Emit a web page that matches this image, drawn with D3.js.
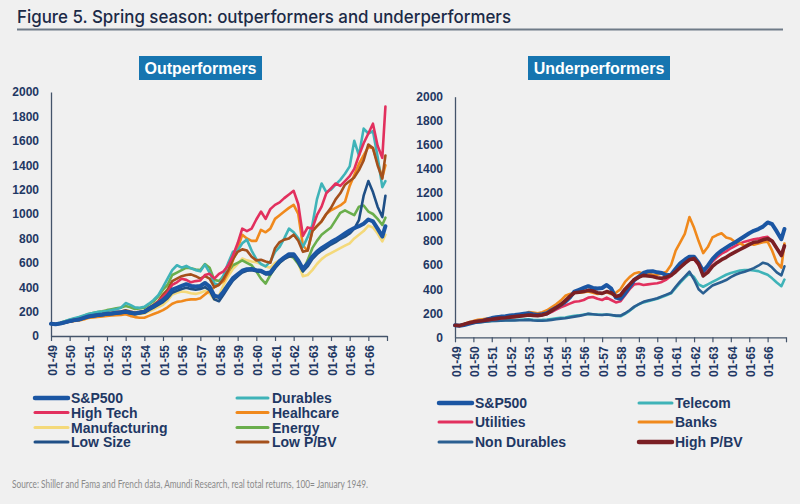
<!DOCTYPE html>
<html><head><meta charset="utf-8">
<script src="https://cdn.jsdelivr.net/npm/d3@7"></script>
<style>body{margin:0;background:#f0f0f0}svg{display:block}</style>
</head><body><svg id="c" width="800" height="504"></svg>
<script>
// ---------- DATA (quarterly readings, real total returns, 100 = Jan 1949) ----------
const dates = [
"1949-01","1949-04","1949-07","1949-10","1950-01","1950-04","1950-07","1950-10",
"1951-01","1951-04","1951-07","1951-10","1952-01","1952-04","1952-07","1952-10",
"1953-01","1953-04","1953-07","1953-10","1954-01","1954-04","1954-07","1954-10",
"1955-01","1955-04","1955-07","1955-10","1956-01","1956-04","1956-07","1956-10",
"1957-01","1957-04","1957-07","1957-10","1958-01","1958-04","1958-07","1958-10",
"1959-01","1959-04","1959-07","1959-10","1960-01","1960-04","1960-07","1960-10",
"1961-01","1961-04","1961-07","1961-10","1962-01","1962-04","1962-07","1962-10",
"1963-01","1963-04","1963-07","1963-10","1964-01","1964-04","1964-07","1964-10",
"1965-01","1965-04","1965-07","1965-10","1966-01","1966-04","1966-07","1966-10","1966-12"];

const sp500 = [100,96,102,112, 122,130,135,148, 160,166,172,176, 182,185,190,195, 200,192,185,192, 200,225,245,270,
 295,330,380,395, 410,425,410,405, 410,435,405,330, 320,365,420,475, 505,535,548,550, 540,535,515,520,
 570,615,645,670, 670,620,550,595, 650,690,720,745, 770,790,815,840, 865,885,900,920, 955,940,880,815,900];
const durables = [100,98,108,122, 135,145,155,168, 180,188,196,200, 205,212,220,232, 270,255,235,232, 240,265,295,335,
 400,470,540,580, 560,575,555,540, 530,585,520,430, 420,500,600,690, 700,760,790,700, 630,590,570,610,
 690,730,800,880, 850,800,730,810, 910,1120,1250,1180, 1200,1240,1280,1330, 1390,1600,1480,1700, 1660,1680,1470,1220,1270];
const highTech = [100,96,102,110, 120,128,133,145, 157,162,168,172, 178,182,186,190, 198,190,183,190, 198,222,248,280,
 320,360,420,440, 470,460,440,450, 455,500,510,470, 510,530,580,660, 760,880,860,880, 955,1020,960,1040,
 1075,1095,1130,1160, 1190,1080,820,890, 880,990,1060,1170, 1210,1250,1230,1270, 1310,1370,1480,1580, 1660,1740,1560,1460,1880];
const healthcare = [100,96,100,108, 118,124,128,136, 148,152,156,160, 165,168,170,172, 178,165,155,150, 150,165,180,195,
 212,235,265,280, 285,295,300,300, 310,340,370,400, 420,450,520,620, 720,830,800,780, 780,870,850,880,
 960,990,1020,1050, 1075,1000,740,700, 860,900,940,1000, 1030,1050,1070,1100, 1230,1320,1410,1480, 1550,1540,1420,1300,1400];
const manufacturing = [100,96,100,108, 118,125,130,140, 152,157,162,166, 172,175,180,183, 188,182,176,180, 185,200,218,238,
 255,290,340,355, 365,360,350,345, 355,370,350,300, 330,420,490,550, 590,635,620,610, 605,590,570,560,
 600,620,635,650, 665,600,490,500, 540,590,630,660, 680,700,720,740, 760,800,830,860, 905,890,840,775,830];
const energy = [100,98,108,120, 132,142,150,165, 180,188,196,202, 212,220,228,234, 245,235,222,225, 232,258,285,325,
 380,420,500,520, 540,560,555,545, 540,590,560,460, 450,490,530,580, 600,620,600,580, 530,470,430,500,
 560,600,640,660, 640,590,530,620, 720,780,830,860, 890,950,1010,1030, 1010,990,1060,1070, 1020,1000,960,910,970];
const lowSize = [100,95,100,108, 118,126,131,143, 155,161,166,170, 176,179,183,187, 192,185,178,184, 190,212,232,255,
 278,310,355,370, 385,395,385,380, 385,400,375,300, 285,340,400,455, 490,520,535,540, 530,525,505,505,
 555,600,630,650, 655,600,530,570, 630,670,700,725, 750,770,795,815, 840,880,950,1150, 1270,1180,1060,975,1150];
const lowPBV = [100,97,104,115, 125,133,140,150, 163,168,176,180, 186,190,196,200, 210,200,193,198, 205,230,255,285,
 340,380,450,470, 490,500,505,490, 470,490,470,400, 420,470,540,630, 690,710,700,650, 620,625,610,600,
 720,770,790,800, 830,780,690,700, 860,900,940,1000, 1050,1120,1170,1240, 1270,1300,1360,1440, 1570,1540,1400,1290,1480];

const telecom = [100,98,108,118, 122,126,128,132, 135,137,140,142, 143,145,146,148, 150,146,144,145, 147,152,157,162,
 165,172,178,182, 190,195,192,190, 188,190,185,178, 175,195,220,250, 275,290,300,310, 320,335,350,365,
 410,455,495,530, 500,440,420,440, 460,480,500,520, 535,545,555,560, 560,555,550,535, 520,490,455,425,480];
const utilities = [100,97,106,116, 125,130,135,140, 148,152,158,162, 166,170,175,180, 185,182,180,185, 195,210,230,250,
 265,280,295,300, 310,330,335,320, 310,330,310,290, 300,350,400,440, 445,435,440,445, 450,460,480,510,
 555,590,625,650, 650,600,530,580, 630,665,695,715, 740,760,780,795, 805,815,820,830, 835,800,740,690,755];
const banks = [100,98,110,125, 135,145,150,155, 158,160,163,166, 170,175,182,190, 210,205,200,208, 225,250,275,305,
 345,360,370,370, 375,380,370,360, 365,375,360,370, 400,460,500,530, 540,530,530,520, 520,530,545,600,
 720,790,860,1000, 910,800,700,750, 830,850,865,830, 820,790,780,760, 780,770,780,790, 795,720,620,580,780];
const nonDurables = [100,97,106,115, 120,125,128,132, 135,135,138,140, 140,140,142,143, 145,140,138,138, 140,145,150,155,
 158,165,172,178, 186,195,192,188, 185,190,185,180, 180,200,225,255, 275,295,305,315, 325,340,355,370,
 420,465,505,545, 480,400,365,400, 430,445,460,476, 500,520,535,545, 560,575,595,620, 610,580,540,515,590];
const highPBV = [100,97,108,120, 128,134,138,145, 150,155,160,163, 168,172,176,180, 185,182,180,186, 195,220,245,270,
 305,340,370,375, 380,390,385,370, 365,380,370,340, 350,400,440,480, 500,515,510,505, 495,490,500,515,
 545,580,615,645, 655,610,510,540, 590,620,645,665, 690,710,730,750, 770,790,795,810, 820,800,740,680,760];

const yTickValues = [0,200,400,600,800,1000,1200,1400,1600,1800,2000];
const xTickLabels = ["01-49","01-50","01-51","01-52","01-53","01-54","01-55","01-56","01-57",
 "01-58","01-59","01-60","01-61","01-62","01-63","01-64","01-65","01-66"];

// ---------- DRAWING ----------
const parse = d3.timeParse("%Y-%m");
const T = dates.map(parse);
const svg = d3.select("#c");
const NAVY = "#1f3864";
const AXIS = "#44546a";

svg.append("rect").attr("width",800).attr("height",504).attr("fill","#f0f0f0");

svg.append("text").attr("x",17).attr("y",23)
  .attr("font-family","Inter, 'Open Sans', sans-serif").attr("font-size",17.5).attr("font-weight",500)
  .attr("fill","#1b2a47").attr("textLength",494).attr("lengthAdjust","spacingAndGlyphs")
  .text("Figure 5. Spring season: outperformers and underperformers");
svg.append("line").attr("x1",17).attr("x2",783).attr("y1",29.5).attr("y2",29.5)
  .attr("stroke","#6f7b88").attr("stroke-width",2);

svg.append("text").attr("x",12).attr("y",488)
  .attr("font-family","Lato, 'Open Sans', sans-serif").attr("font-weight",400).attr("font-size",11.5)
  .attr("fill","#8a8a8a").attr("textLength",356).attr("lengthAdjust","spacingAndGlyphs")
  .text("Source: Shiller and Fama and French data, Amundi Research, real total returns, 100= January 1949.");

const panels = [
  { x0:51, x1:387, y0:336, y1:92, title:"Outperformers", boxCx:200.5, boxW:123,
    series:[
      {name:"Manufacturing", v:manufacturing, c:"#f4d97a", w:2.6},
      {name:"Energy", v:energy, c:"#6aae4c", w:2.6},
      {name:"Healhcare", v:healthcare, c:"#f0891c", w:2.6},
      {name:"Durables", v:durables, c:"#3fb3b8", w:2.6},
      {name:"Low P/BV", v:lowPBV, c:"#a4501c", w:2.6},
      {name:"High Tech", v:highTech, c:"#e2305e", w:2.6},
      {name:"Low Size", v:lowSize, c:"#1f4f86", w:2.6},
      {name:"S&P500", v:sp500, c:"#1b56a3", w:4}
    ],
    legend:{ cols:[{lx:35,lx2:68,tx:71},{lx:237,lx2:268,tx:272}], rows:[398,412.5,427.5,442],
      items:[["S&P500","Durables"],["High Tech","Healhcare"],["Manufacturing","Energy"],["Low Size","Low P/BV"]] }
  },
  { x0:455, x1:786, y0:337.3, y1:96.7, title:"Underperformers", boxCx:599, boxW:142,
    series:[
      {name:"Telecom", v:telecom, c:"#3fb3b8", w:2.6},
      {name:"Non Durables", v:nonDurables, c:"#2a5f91", w:2.6},
      {name:"Utilities", v:utilities, c:"#e2305e", w:2.6},
      {name:"Banks", v:banks, c:"#f0891c", w:2.6},
      {name:"S&P500", v:sp500, c:"#1b56a3", w:4},
      {name:"High P/BV", v:highPBV, c:"#7a1f24", w:3.6}
    ],
    legend:{ cols:[{lx:439,lx2:472,tx:475},{lx:639,lx2:672,tx:675}], rows:[403,422,442],
      items:[["S&P500","Telecom"],["Utilities","Banks"],["Non Durables","High P/BV"]] }
  }
];

panels.forEach(p => {
  const x = d3.scaleTime().domain([new Date(1949,0,1), new Date(1967,0,1)]).range([p.x0,p.x1]);
  const y = d3.scaleLinear().domain([0,2000]).range([p.y0,p.y1]);
  const g = svg.append("g");

  g.append("rect").attr("x",p.boxCx-p.boxW/2).attr("y",56).attr("width",p.boxW).attr("height",24).attr("fill","#1675b0");
  g.append("text").attr("x",p.boxCx).attr("y",73.5).attr("text-anchor","middle")
    .attr("font-family","'Liberation Sans', Arial, sans-serif").attr("font-weight","bold").attr("font-size",16)
    .attr("fill","#ffffff").text(p.title);

  const ya = g.append("g").attr("transform",`translate(${p.x0},0)`)
    .call(d3.axisLeft(y).tickValues(yTickValues).tickSize(0).tickPadding(12).tickFormat(d3.format("d")));
  ya.select(".domain").attr("stroke",AXIS).attr("stroke-width",1.3);
  ya.selectAll("text").attr("font-family","'Liberation Sans', Arial, sans-serif").attr("font-weight","bold")
    .attr("font-size",12).attr("fill",NAVY);

  const tickDates = d3.timeYear.range(new Date(1949,0,1), new Date(1967,0,2));
  const xa = g.append("g").attr("transform",`translate(0,${p.y0})`)
    .call(d3.axisBottom(x).tickValues(tickDates).tickSize(5).tickSizeOuter(0)
      .tickFormat((d,i) => xTickLabels[i] || ""));
  xa.select(".domain").attr("stroke",AXIS).attr("stroke-width",1.3);
  xa.selectAll(".tick line").attr("stroke",AXIS).attr("stroke-width",1.2);
  xa.selectAll("text").attr("font-family","'Liberation Sans', Arial, sans-serif").attr("font-weight","bold")
    .attr("font-size",12).attr("fill",NAVY)
    .attr("transform","rotate(-90)").attr("text-anchor","end").attr("x",-9).attr("y",1).attr("dy","0.35em");

  const line = d3.line().x((d,i)=>x(T[i])).y(d=>y(d));
  p.series.forEach(s => {
    g.append("path").attr("d",line(s.v)).attr("fill","none").attr("stroke",s.c)
      .attr("stroke-width",s.w).attr("stroke-linejoin","round").attr("stroke-linecap","round");
  });

  const byName = {}; p.series.forEach(s=>byName[s.name]=s);
  p.legend.items.forEach((row,ri) => {
    row.forEach((nm,ci) => {
      const s = byName[nm], col = p.legend.cols[ci], yy = p.legend.rows[ri];
      g.append("line").attr("x1",col.lx).attr("x2",col.lx2).attr("y1",yy).attr("y2",yy)
        .attr("stroke",s.c).attr("stroke-width",s.w>3?4.5:3).attr("stroke-linecap","round");
      g.append("text").attr("x",col.tx).attr("y",yy).attr("dy","0.36em")
        .attr("font-family","'Liberation Sans', Arial, sans-serif").attr("font-weight","bold").attr("font-size",14)
        .attr("fill",NAVY).text(nm);
    });
  });
});
</script></body></html>
